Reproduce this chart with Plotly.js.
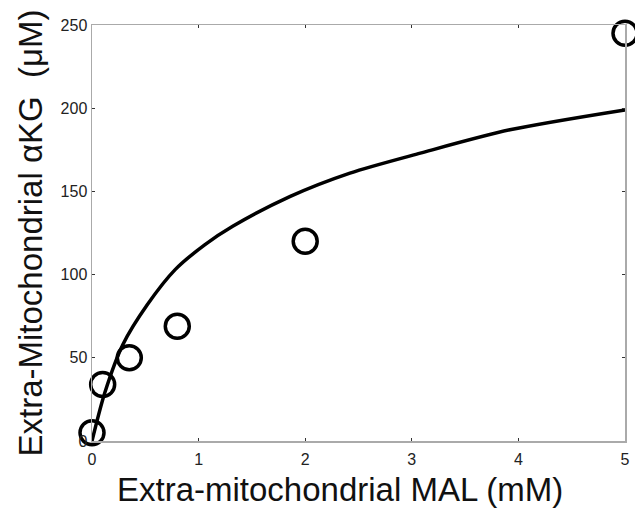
<!DOCTYPE html>
<html>
<head>
<meta charset="utf-8">
<script src="https://cdn.plot.ly/plotly-3.0.1.min.js"></script>
<style>html,body{margin:0;padding:0;background:#fff;}#chart{width:635px;height:513px;}</style>
</head>
<body>
<div id="chart"></div>
<script>
const dataX = [0, 0.1, 0.35, 0.8, 2, 5];
const dataY = [5, 34, 50, 69, 120, 245];
const fitX = [0, 0.12, 0.29, 0.52, 0.78, 1.06, 1.32, 1.86, 2.42, 3.08, 3.92, 5];
const fitY = [0, 29, 58, 82, 103, 118, 129, 147, 161, 173, 187, 199];
const xTicks = [0, 1, 2, 3, 4, 5];
const yTicks = [0, 50, 100, 150, 200, 250];
const xTitle = 'Extra-mitochondrial MAL (mM)';
const yTitle = 'Extra-Mitochondrial αKG  (μM)';

const traces = [
  {x: fitX, y: fitY, mode: 'lines', line: {color: '#000', width: 3.5, shape: 'spline', smoothing: 0.8}, hoverinfo: 'skip', cliponaxis: false},
  {x: dataX, y: dataY, mode: 'markers', marker: {symbol: 'circle-open', size: 24, color: '#000', line: {width: 3.5, color: '#000'}}, cliponaxis: false}
];
const layout = {
  width: 635, height: 513,
  margin: {l: 92, r: 10, t: 25, b: 72},
  paper_bgcolor: '#fff', plot_bgcolor: '#fff',
  showlegend: false,
  font: {family: 'Liberation Sans, Arial, sans-serif', color: '#000'},
  xaxis: {
    range: [0, 5], tickvals: xTicks, ticktext: xTicks.map(String),
    showgrid: false, zeroline: false, showline: true, linecolor: '#aaa', linewidth: 1.5, mirror: 'ticks',
    ticks: 'inside', ticklen: 3, tickcolor: '#333', tickwidth: 1,
    tickfont: {size: 16, color: '#222'}, ticklabelstandoff: 3
  },
  yaxis: {
    range: [0, 250], tickvals: yTicks, ticktext: yTicks.map(String),
    showgrid: false, zeroline: false, showline: true, linecolor: '#aaa', linewidth: 1.5, mirror: 'ticks',
    ticks: 'inside', ticklen: 3, tickcolor: '#333', tickwidth: 1,
    tickfont: {size: 16, color: '#222'},
    title: {text: yTitle, font: {size: 33, color: '#111'}, standoff: 8}
  },
  annotations: [
    {text: xTitle, xref: 'paper', yref: 'paper', x: (340 - 92) / 533, y: -(490 - 441) / 416,
     xanchor: 'center', yanchor: 'middle', showarrow: false, font: {size: 33, color: '#111'}}
  ]
};
Plotly.newPlot('chart', traces, layout, {displayModeBar: false, staticPlot: true});
</script>
</body>
</html>
